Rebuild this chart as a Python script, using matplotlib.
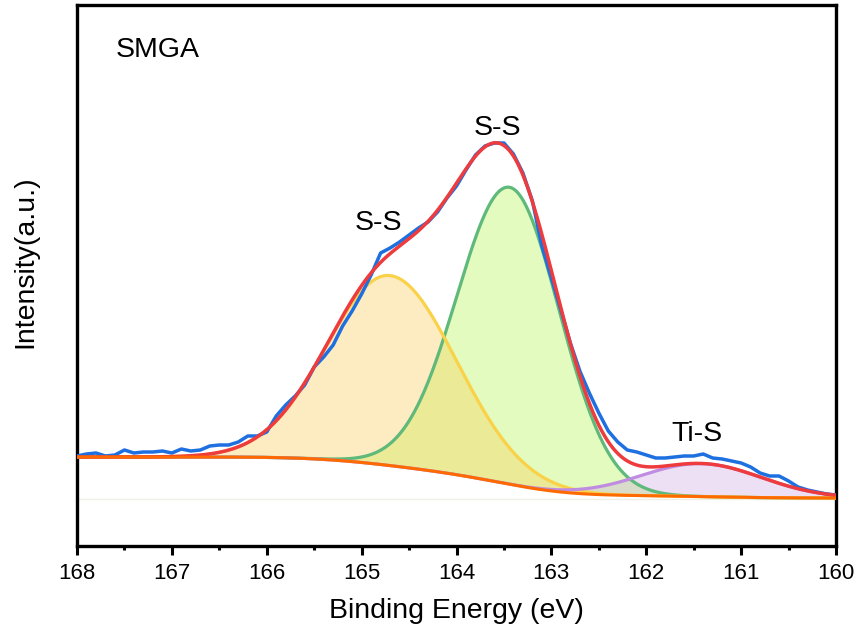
import numpy as np
import matplotlib
matplotlib.use("Agg")
import matplotlib.pyplot as plt

plt.rcParams['font.family'] = ['Liberation Sans', 'DejaVu Sans']

# ---- raw spectrum (binding energy in eV, intensity in arbitrary units) ----
energy = [168.0 - 0.1 * k for k in range(81)]
intensity = [90, 92, 93, 90, 91, 96, 93, 94, 94, 95,
             93, 97, 95, 96, 100, 101, 101, 104, 110, 110,
             114, 130, 141, 150, 161, 179, 189, 201, 220, 235,
             252, 271, 293, 298, 304, 311, 318, 324, 334, 348,
             360, 376, 391, 400, 403, 403, 392, 373, 345, 300,
             268, 236, 203, 175, 153, 133, 115, 104, 96, 94,
             91, 88, 88, 89, 90, 90, 92, 88, 87, 85,
             83, 79, 73, 70, 70, 65, 59, 56, 54, 52, 51]

# ---- fitted components: centre (eV), FWHM on high-BE / low-BE side (eV), height ----
peak_names = ["S-S 2p1/2", "S-S 2p3/2", "Ti-S"]
peak_centers = [164.70, 163.44, 161.42]
peak_fwhm_high = [1.56, 1.30, 1.50]
peak_fwhm_low = [1.63, 1.24, 1.50]
peak_heights = [190, 297, 33]

# Shirley background end values (high-BE end, low-BE end)
bg_high = 89
bg_low = 48
zero_level = 47

# labels
label_text = ["S-S", "S-S", "Ti-S"]
label_x = [164.82, 163.57, 161.47]
label_y = [316, 411, 105]

line_colors = ["#F9D24A", "#5FB97A", "#BF8CE2"]
fill_colors = ["#FACB4E", "#AFF645", "#CCA4E2"]

# ---- build model curves ----
E = np.linspace(168.0, 160.0, 801)
comps = []
for c, wh, wl, h in zip(peak_centers, peak_fwhm_high, peak_fwhm_low, peak_heights):
    s = np.where(E >= c, wh, wl) / 2.3548
    comps.append(h * np.exp(-0.5 * ((E - c) / s) ** 2))
total_peaks = np.sum(comps, axis=0)
# cumulative area from the low-BE side (Shirley-type step)
Er = E[::-1]
pr = total_peaks[::-1]
cum = np.concatenate([[0], np.cumsum(0.5 * (pr[1:] + pr[:-1]) * np.abs(np.diff(Er)))])
cum = cum[::-1]
bg = bg_low + (bg_high - bg_low) * cum / cum.max()
envelope = bg + total_peaks

fig = plt.figure(figsize=(8.59, 6.35), dpi=100)
ax = fig.add_axes([77 / 859, 1 - 546 / 635, (836 - 77) / 859, (546 - 5) / 635])

ax.axhline(zero_level, color="#efefe4", lw=1.0, zorder=1)

order = [1, 0, 2]  # green fill first, then yellow, then purple
for i in order:
    ax.fill_between(E, bg, bg + comps[i], color=fill_colors[i], alpha=0.35,
                    lw=0, zorder=2)
for i in order:
    ax.plot(E, bg + comps[i], color=line_colors[i], lw=2.3, zorder=3)

ax.plot(energy, intensity, color="#1E6FE0", lw=2.5, zorder=4)
ax.plot(E, envelope, color="#EE3B3D", lw=2.5, zorder=5)
ax.plot(E, bg, color="#FF6A00", lw=2.2, zorder=6)

for t, x, y in zip(label_text, label_x, label_y):
    ax.text(x, y, t, fontsize=20.5, ha="center", va="baseline", zorder=7)
ax.text(167.59, 489, "SMGA", fontsize=20.5, ha="left", va="baseline")

ax.set_xlim(168, 160)
ax.set_ylim(0, 541)
ax.set_xticks(np.arange(168, 159, -1))
ax.set_xticks(np.arange(167.5, 160, -1), minor=True)
ax.set_yticks([])
ax.tick_params(axis="x", which="major", length=6.5, width=2.2, direction="out",
               labelsize=16, pad=6)
ax.tick_params(axis="x", which="minor", length=3.0, width=2.2, direction="out")
for sp in ax.spines.values():
    sp.set_linewidth(2.4)

ax.set_xlabel("Binding Energy (eV)", fontsize=20.5, labelpad=10)
ax.set_ylabel("Intensity(a.u.)", fontsize=20.5)
ax.yaxis.set_label_coords(-0.051, 0.525)

fig.savefig("out.png", dpi=100)
